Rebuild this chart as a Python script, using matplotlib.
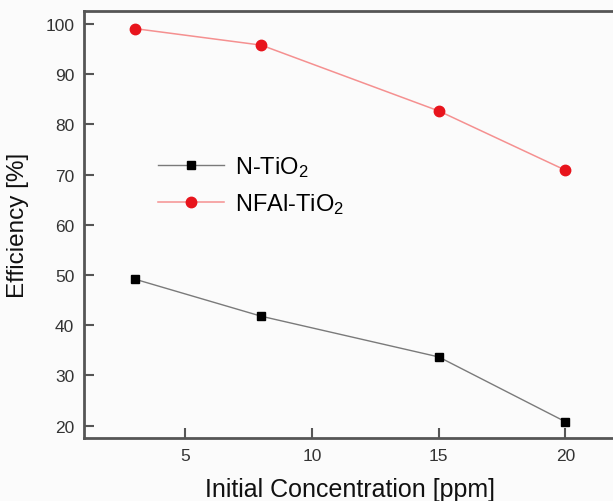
import matplotlib
matplotlib.use("Agg")
import matplotlib.pyplot as plt

plt.rcParams['font.family'] = ['Liberation Sans', 'DejaVu Sans']
plt.rcParams['mathtext.fontset'] = 'custom'
plt.rcParams['mathtext.rm'] = 'Liberation Sans'
plt.rcParams['mathtext.it'] = 'Liberation Sans'
plt.rcParams['mathtext.default'] = 'regular'

concentration = [3, 8, 15, 20]
n_tio2 = [49.2, 41.8, 33.7, 20.8]
nfal_tio2 = [99.1, 95.8, 82.7, 70.9]
x_ticks = [5, 10, 15, 20]
y_ticks = [20, 30, 40, 50, 60, 70, 80, 90, 100]

W, H = 613, 502
fig = plt.figure(figsize=(W / 100, H / 100), dpi=100, facecolor='#fbfbfb')
ax = fig.add_axes([84 / W, 1 - 439 / H, (616 - 84) / W, (439 - 12) / H])
ax.set_facecolor('#fbfbfb')

ax.plot(concentration, n_tio2, color='#7a7a7a', lw=1.0, marker='s', ms=5.5,
        mfc='black', mec='black', label='N-TiO$_2$')
ax.plot(concentration, nfal_tio2, color='#f59090', lw=1.1, marker='o', ms=7.5,
        mfc='#e8141c', mec='#e8141c', label='NFAl-TiO$_2$')

ax.set_xlim(1, 22)
ax.set_ylim(17.55, 102.6)
ax.set_xticks(x_ticks)
ax.set_yticks(y_ticks)
ax.tick_params(direction='in', length=7, width=1.5, color='#555555',
               labelsize=12.5, labelcolor='#333333', pad=7)
for s in ax.spines.values():
    s.set_color('#555555')
    s.set_linewidth(2)

ax.set_xlabel('Initial Concentration [ppm]', fontsize=18, color='#111111', labelpad=10)
ax.set_ylabel('Efficiency [%]', fontsize=17.5, color='#111111', labelpad=12)

leg = ax.legend(loc='upper left', bbox_to_anchor=(139 / W, 1 - 136 / H),
                bbox_transform=fig.transFigure, frameon=False, fontsize=17,
                handlelength=2.8, handletextpad=0.45, labelspacing=0.52,
                borderpad=0.3)

fig.savefig('out.png', dpi=100, facecolor=fig.get_facecolor())
